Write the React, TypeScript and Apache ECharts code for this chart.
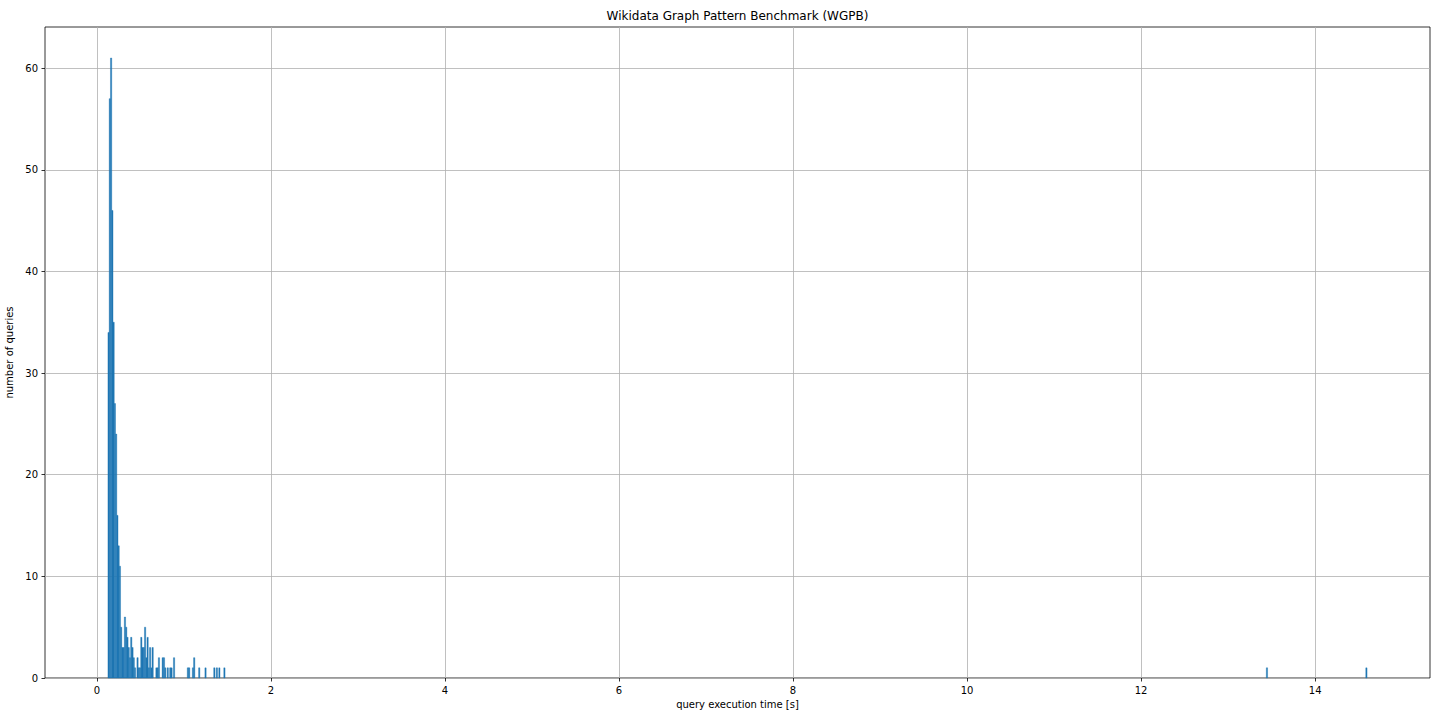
import React, { useEffect, useRef } from 'react';
import * as echarts from 'echarts';

// histogram: 1000 equal bins between the fastest and the slowest query
const HIST_MIN = 0.1265;
const BIN_WIDTH = 0.01447;

// non-empty bins (index of the bin) and how many queries fell in each
const binIndex = [
  0, 1, 2, 3, 4, 5, 6, 7, 8, 9, 10, 11, 12, 13, 14, 15, 16, 17, 18, 19, 20, 21,
  23, 24, 25, 26, 27, 28, 29, 30, 31, 32, 33, 34, 35, 38, 39, 40, 43, 44, 45, 47,
  49, 50, 52, 63, 64, 67, 68, 72, 77, 84, 86, 88, 92, 920, 999,
];
const binCount = [
  34, 57, 61, 46, 35, 27, 24, 16, 13, 11, 5, 3, 3, 6, 5, 4, 3, 2, 4, 3, 2, 1,
  2, 1, 1, 4, 3, 3, 5, 2, 4, 1, 3, 1, 3, 1, 1, 2, 2, 2, 1, 1,
  1, 1, 2, 1, 1, 1, 2, 1, 1, 1, 1, 1, 1, 1, 1,
];

const xTicks = [0, 2, 4, 6, 8, 10, 12, 14];
const yTicks = [0, 10, 20, 30, 40, 50, 60];

const X_MIN = -0.597;
const X_MAX = 15.32;
const Y_MAX = 64.05;

const FONT = 'DejaVu Sans';
const GRID_GRAY = '#b0b0b0';

export default function App() {
  const chartRef = useRef<HTMLDivElement>(null);

  useEffect(() => {
    if (!chartRef.current) return;
    const chart = echarts.init(chartRef.current, undefined, { renderer: 'svg' });

    const bars = binIndex.map((b, k) => [
      HIST_MIN + b * BIN_WIDTH,
      HIST_MIN + (b + 1) * BIN_WIDTH,
      binCount[k],
    ]);

    const option: any = {
      animation: false,
      backgroundColor: '#ffffff',
      title: {
        text: 'Wikidata Graph Pattern Benchmark (WGPB)',
        left: 737.5,
        top: 10,
        padding: 0,
        textAlign: 'center',
        textStyle: { fontFamily: FONT, fontSize: 12, fontWeight: 'normal', color: '#000' },
      },
      grid: {
        left: 45,
        right: 10,
        top: 27,
        bottom: 42,
        containLabel: false,
        outerBoundsMode: 'none',
        show: true,
        borderColor: '#000',
        borderWidth: 0.8,
        backgroundColor: 'transparent',
      },
      xAxis: {
        type: 'value',
        min: X_MIN,
        max: X_MAX,
        splitNumber: 8,
        name: 'query execution time [s]',
        nameLocation: 'middle',
        nameGap: 20,
        nameTextStyle: { fontFamily: FONT, fontSize: 10, color: '#000' },
        axisLine: { show: false, onZero: false },
        axisTick: {
          show: true,
          inside: false,
          length: 3.5,
          lineStyle: { color: '#000', width: 0.8 },
          customValues: xTicks,
        },
        axisLabel: {
          show: true,
          margin: 7,
          color: '#000',
          fontFamily: FONT,
          fontSize: 10,
          customValues: xTicks,
        },
        splitLine: { show: false },
      },
      yAxis: {
        type: 'value',
        min: 0,
        max: Y_MAX,
        interval: 10,
        name: 'number of queries',
        nameLocation: 'middle',
        nameGap: 25,
        nameTextStyle: { fontFamily: FONT, fontSize: 10, color: '#000' },
        axisLine: { show: false, onZero: false },
        axisTick: {
          show: true,
          inside: false,
          length: 3.5,
          lineStyle: { color: '#000', width: 0.8 },
          customValues: yTicks,
        },
        axisLabel: {
          show: true,
          margin: 7,
          color: '#000',
          fontFamily: FONT,
          fontSize: 10,
          customValues: yTicks,
        },
        splitLine: { show: true, lineStyle: { color: GRID_GRAY, width: 0.8 } },
      },
      series: [
        {
          type: 'custom',
          name: 'queries',
          data: bars,
          encode: { x: [0, 1], y: 2 },
          z: 2,
          renderItem: (params: any, api: any) => {
            const topLeft = api.coord([api.value(0), api.value(2)]);
            const bottomRight = api.coord([api.value(1), 0]);
            return {
              type: 'rect',
              shape: {
                x: topLeft[0],
                y: topLeft[1],
                width: bottomRight[0] - topLeft[0],
                height: bottomRight[1] - topLeft[1],
              },
              style: { fill: '#1f77b4', stroke: '#1f77b4', lineWidth: 0.4 },
            };
          },
          // vertical grid lines at the x ticks
          markLine: {
            silent: true,
            symbol: 'none',
            z: 1,
            label: { show: false },
            lineStyle: { color: GRID_GRAY, width: 0.8, type: 'solid' },
            emphasis: { disabled: true },
            data: xTicks.map((v) => ({ xAxis: v })),
          },
        },
      ],
    };
    chart.setOption(option);

    const resizeHandler = () => chart.resize();
    window.addEventListener('resize', resizeHandler);

    return () => {
      window.removeEventListener('resize', resizeHandler);
      chart.dispose();
    };
  }, []);

  return (
    <div
      ref={chartRef}
      style={{ position: 'fixed', left: 0, top: 0, width: '1440px', height: '720px', background: '#fff' }}
    />
  );
}
